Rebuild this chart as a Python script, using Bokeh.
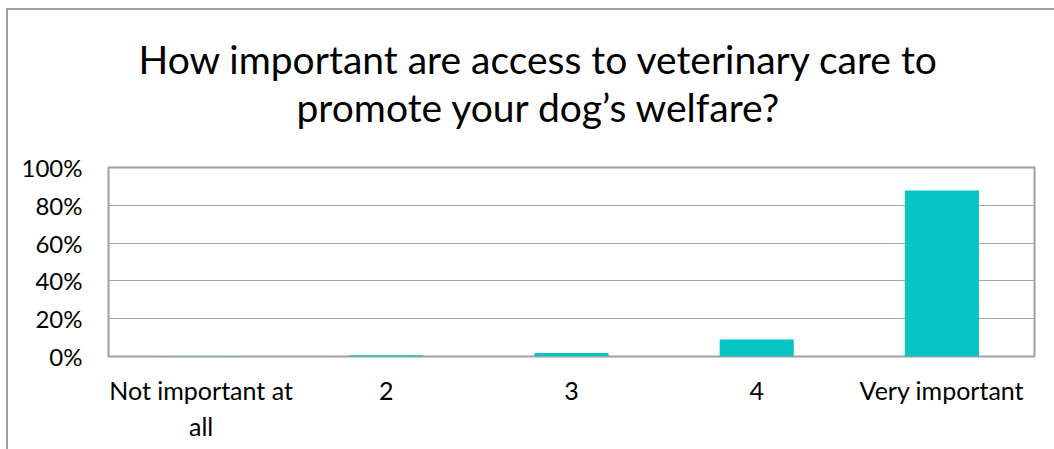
from bokeh.plotting import figure
from bokeh.models import FactorRange, Range1d, NumeralTickFormatter, FixedTicker, ColumnDataSource, Title
from bokeh.embed import file_html
from bokeh.resources import INLINE

categories = ["Not important at\nall", "2", "3", "4", "Very important"]
shares = [0.003, 0.007, 0.018, 0.09, 0.878]
y_ticks = [0, 0.2, 0.4, 0.6, 0.8, 1.0]
title_lines = ["How important are access to veterinary care to",
               "promote your dog\u2019s welfare?"]

FONT = "Lato"
BAR = "#04C4C4"
GRID = "#A6A6A6"
TITLE_SIZE = "39px"

source = ColumnDataSource(data=dict(cat=categories, share=shares))

p = figure(
    x_range=FactorRange(*categories),
    y_range=Range1d(0, 1),
    frame_width=926, frame_height=189,
    min_border_left=100, min_border_right=20,
    min_border_top=157, min_border_bottom=93,
    output_backend="svg", toolbar_location=None,
)
p.styles = {"margin-left": "6px", "margin-top": "8px",
            "border-left": "2px solid #A0A0A0", "border-top": "2px solid #A0A0A0"}

p.vbar(x="cat", top="share", width=0.4, source=source,
       fill_color=BAR, line_color=None)

# outermost title line
p.title.text = title_lines[0]
p.title.align = "left"
p.title.offset = 30
p.title.text_font = FONT
p.title.text_font_size = TITLE_SIZE
p.title.text_font_style = "normal"
p.title.text_color = "#000000"
p.title.standoff = 0

# empty spacer panel directly above the frame (pushes both title lines up)
spacer = Title(text=" ", text_font_size="1px", standoff=35)
p.add_layout(spacer, "above")

# second title line
t2 = Title(text=title_lines[1], align="left", offset=188, text_font=FONT,
           text_font_size=TITLE_SIZE, text_font_style="normal",
           text_color="#000000", standoff=0)
p.add_layout(t2, "above")

p.outline_line_color = "#A0A0A0"
p.outline_line_width = 2

p.xgrid.grid_line_color = None
p.ygrid.grid_line_color = GRID
p.ygrid.grid_line_width = 1
p.ygrid.ticker = FixedTicker(ticks=y_ticks)

for ax in (p.xaxis, p.yaxis):
    ax.axis_line_color = None
    ax.major_tick_line_color = None
    ax.minor_tick_line_color = None
    ax.major_tick_in = 0
    ax.major_tick_out = 0
    ax.major_label_text_font = FONT
    ax.major_label_text_color = "#000000"

p.xaxis.major_label_text_font_size = "25px"
p.yaxis.major_label_text_font_size = "24px"
p.yaxis.ticker = FixedTicker(ticks=y_ticks)
p.yaxis.formatter = NumeralTickFormatter(format="0%")
p.yaxis.major_label_standoff = 26
p.xaxis.major_label_standoff = 18

open("out.html", "w").write(file_html(p, INLINE))
